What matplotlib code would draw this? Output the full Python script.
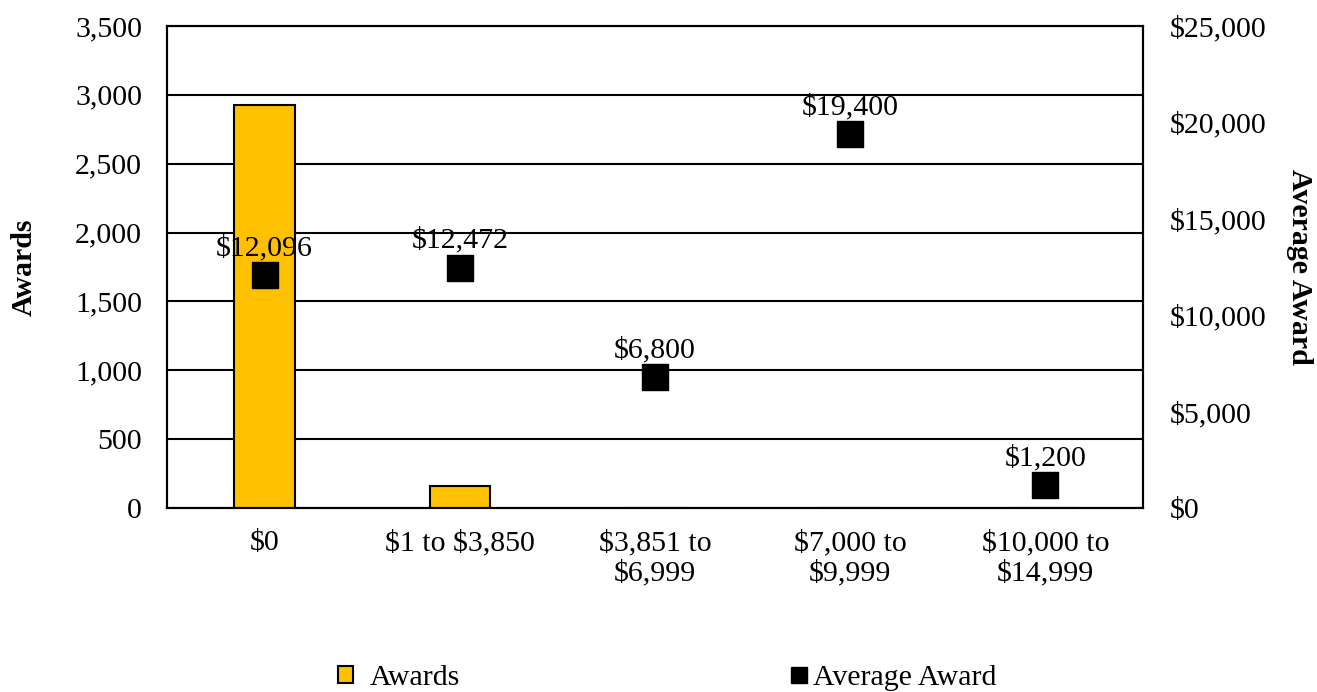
import matplotlib

matplotlib.use("Agg")
import matplotlib.pyplot as plt
import numpy as np
from matplotlib.lines import Line2D
from matplotlib.patches import Patch

categories = ["$0", "$1 to $3,850", "$3,851 to\n$6,999", "$7,000 to\n$9,999", "$10,000 to\n$14,999"]
awards = [2925, 160, 2, 1, 2]
avg_award = [12096, 12472, 6800, 19400, 1200]
avg_labels = ["$12,096", "$12,472", "$6,800", "$19,400", "$1,200"]

left_ticks = [0, 500, 1000, 1500, 2000, 2500, 3000, 3500]
right_ticks = [0, 5000, 10000, 15000, 20000, 25000]

BAR_COLOR = "#FFC000"
FS = 21.5

plt.rcParams["font.family"] = ["Liberation Serif", "DejaVu Serif"]
plt.rcParams["text.parse_math"] = False

fig = plt.figure(figsize=(13.17, 6.92), dpi=100)
ax = fig.add_axes([167 / 1317, 1 - 508 / 692, (1143 - 167) / 1317, (508 - 26) / 692])
x = np.arange(len(categories))

ax.bar(x, awards, width=0.31, color=BAR_COLOR, edgecolor="black", linewidth=1.5, zorder=3)
ax.set_xlim(-0.5, len(categories) - 0.5)
ax.set_ylim(0, 3500)
ax.set_yticks(left_ticks)
ax.set_yticklabels([f"{v:,}" for v in left_ticks])
ax.set_xticks(x)
ax.set_xticklabels(categories, linespacing=1.15)
ax.yaxis.grid(True, color="black", linewidth=1.5, zorder=0)
ax.set_axisbelow(True)
ax.tick_params(axis="y", length=0, labelsize=FS, pad=18)
ax.tick_params(axis="x", length=0, labelsize=FS, pad=16)
ax.set_ylabel("Awards", fontsize=FS, fontweight="bold", labelpad=27)
for s in ax.spines.values():
    s.set_linewidth(1.5)

ax2 = ax.twinx()
ax2.set_ylim(0, 25000)
ax2.set_yticks(right_ticks)
ax2.set_yticklabels([f"${v:,}" for v in right_ticks])
ax2.tick_params(axis="y", length=0, labelsize=FS, pad=19)
ax2.scatter(x, avg_award, marker="s", s=350, color="black", zorder=4)
for xi, yi, lab in zip(x, avg_award, avg_labels):
    ax2.annotate(lab, (xi, yi), xytext=(0, 10), textcoords="offset points",
                 ha="center", va="bottom", fontsize=FS)
ax2.set_ylabel("Average Award", fontsize=FS, fontweight="bold", rotation=270, labelpad=34)
for s in ax2.spines.values():
    s.set_linewidth(1.5)

leg1 = fig.legend(handles=[Patch(facecolor=BAR_COLOR, edgecolor="black", linewidth=1.5, label="Awards")],
                  loc="center left", bbox_to_anchor=(338 / 1317, 1 - 678 / 692), frameon=False,
                  fontsize=FS, handlelength=0.5, handleheight=0.5, handletextpad=0.55,
                  borderpad=0, borderaxespad=0)
leg2 = fig.legend(handles=[Line2D([], [], marker="s", color="black", linestyle="none", markersize=11,
                                  label="Average Award")],
                  loc="center left", bbox_to_anchor=(791 / 1317, 1 - 678 / 692), frameon=False,
                  fontsize=FS, handlelength=0.55, handletextpad=0.2,
                  borderpad=0, borderaxespad=0)

fig.savefig("out.png", dpi=100)
